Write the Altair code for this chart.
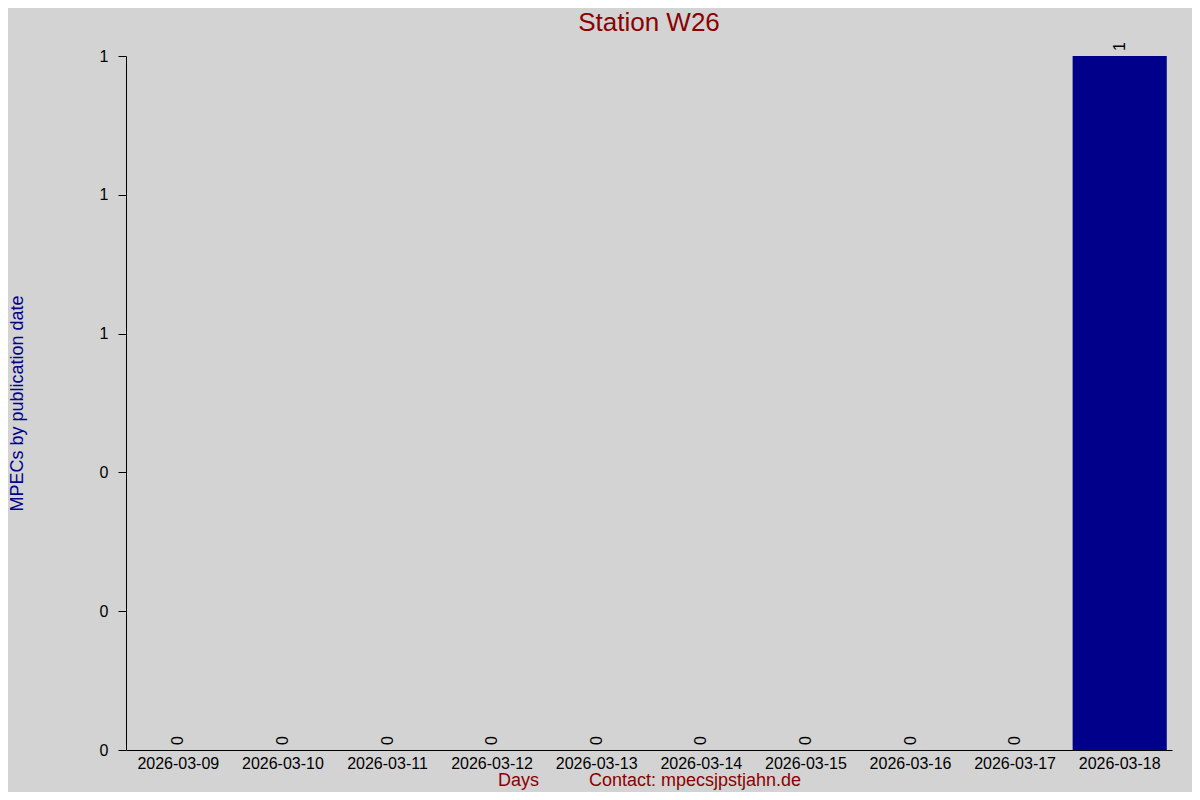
import altair as alt
import pandas as pd

days = ["2026-03-09", "2026-03-10", "2026-03-11", "2026-03-12", "2026-03-13",
        "2026-03-14", "2026-03-15", "2026-03-16", "2026-03-17", "2026-03-18"]
counts = [0, 0, 0, 0, 0, 0, 0, 0, 0, 1]

df = pd.DataFrame({"day": days, "count": counts})

FONT = "Liberation Sans"
NB = "\u00a0"
x_title = "Days" + NB * 10 + "Contact: mpecsjpstjahn.de"

x_enc = alt.X(
    "day:N",
    sort=days,
    scale=alt.Scale(paddingInner=0.1, paddingOuter=0.05),
    axis=alt.Axis(
        title=x_title,
        titleColor="#8b0000",
        titleFontSize=18,
        titleFontWeight="normal",
        titleFont=FONT,
        titlePadding=0,
        labelAngle=0,
        labelFontSize=16,
        labelFont=FONT,
        labelColor="black",
        labelPadding=5,
        ticks=False,
        domainColor="black",
        domainWidth=1,
    ),
)

y_enc = alt.Y(
    "count:Q",
    scale=alt.Scale(domain=[0, 1], nice=False),
    axis=alt.Axis(
        title="MPECs by publication date",
        titleColor="#00008b",
        titleFontSize=18,
        titleFontWeight="normal",
        titleFont=FONT,
        titleAngle=270,
        titleBaseline="middle",
        titleAlign="center",
        titleX=-109,
        titleY=347,
        values=[0, 0.2, 0.4, 0.6, 0.8, 1.0],
        format=".0f",
        labelFontSize=16,
        labelFont=FONT,
        labelColor="black",
        labelPadding=10,
        tickSize=8,
        tickColor="black",
        domainColor="black",
        grid=False,
    ),
)

bars = alt.Chart(df).mark_bar(color="#00008b").encode(x=x_enc, y=y_enc)

labels = alt.Chart(df).mark_text(
    angle=270,
    align="left",
    baseline="middle",
    dx=5,
    fontSize=16,
    font=FONT,
    color="black",
).encode(
    x=alt.X("day:N", sort=days),
    y=alt.Y("count:Q"),
    text=alt.Text("count:Q", format=".0f"),
)

chart = (
    alt.layer(bars, labels)
    .properties(
        width=1046,
        height=694,
        background="#d3d3d3",
        padding={"left": 118, "top": 48, "right": 20, "bottom": 42},
        autosize=alt.AutoSizeParams(type="none"),
        title=alt.TitleParams(
            "Station W26",
            color="#8b0000",
            fontSize=26,
            font=FONT,
            fontWeight="normal",
            anchor="middle",
            frame="group",
            baseline="alphabetic",
            offset=0,
            dy=15,
        ),
    )
    .configure_view(stroke=None)
)

chart.save("out.html", embed_options={"renderer": "svg", "actions": False})
